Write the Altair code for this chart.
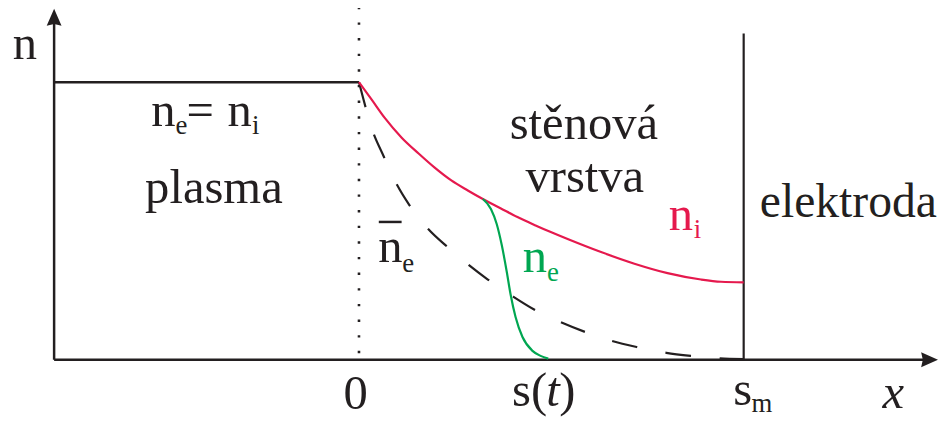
import altair as alt
import pandas as pd

# x in units of s_m (0 = sheath edge, 1 = electrode); n relative to plasma density
ni_x = [0.000, 0.0335, 0.067, 0.111, 0.155, 0.196, 0.240, 0.284, 0.322, 0.369,
        0.412, 0.459, 0.497, 0.544, 0.631, 0.716, 0.802, 0.889, 0.941, 1.000]
ni_n = [1.000, 0.936, 0.871, 0.800, 0.743, 0.693, 0.646, 0.609, 0.579, 0.545,
        0.514, 0.484, 0.461, 0.434, 0.387, 0.346, 0.312, 0.289, 0.281, 0.279]

nebar_x = [0.000, 0.0155, 0.0335, 0.0644, 0.0928, 0.131, 0.180, 0.232, 0.284, 0.335,
           0.399, 0.454, 0.523, 0.588, 0.657, 0.722, 0.799, 0.863, 0.936, 1.000]
nebar_n = [1.000, 0.918, 0.832, 0.732, 0.646, 0.557, 0.471, 0.404, 0.343, 0.289,
           0.229, 0.182, 0.136, 0.100, 0.068, 0.046, 0.025, 0.014, 0.005, 0.002]

ne_x = [0.322, 0.343, 0.358, 0.371, 0.384, 0.394, 0.407, 0.425, 0.451, 0.472, 0.492]
ne_n = [0.579, 0.543, 0.489, 0.414, 0.318, 0.236, 0.154, 0.082, 0.032, 0.014, 0.004]

plasma_x = [-0.7925, 0.0]
plasma_n = [1.0, 1.0]

BLACK = "#231F20"
RED = "#E5194D"
GREEN = "#00A651"
FONT = "Liberation Serif, Times New Roman, Times, serif"
BIG = 49
SUB = 27

xs = alt.Scale(domain=[-0.91237, 1.50773], nice=False, zero=False)
ys = alt.Scale(domain=[-0.22143, 1.26071], nice=False, zero=False)


def X(f):
    return alt.X(f, type="quantitative", scale=xs, axis=None)


def Y(f):
    return alt.Y(f, type="quantitative", scale=ys, axis=None)


def curve(xv, nv, color, dash=None):
    df = pd.DataFrame({"x": xv, "n": nv})
    kw = dict(color=color, strokeWidth=2.2, interpolate="monotone", strokeCap="butt")
    if dash:
        kw["strokeDash"] = dash
    return alt.Chart(df).mark_line(**kw).encode(x=X("x"), y=Y("n"), order="x:Q")


# straight segments: axes, electrode, overbar
segs = pd.DataFrame({
    "x":  [-0.7925, -0.7925, 1.0, 0.0515],
    "x2": [-0.7925, 1.47, 1.0, 0.1108],
    "y":  [0.0, 0.0, 0.0, 0.4964],
    "y2": [1.22, 0.0, 1.175, 0.4964],
    "w":  [2.5, 2.5, 2.2, 2.5],
})
rules = alt.Chart(segs).mark_rule(color=BLACK, strokeCap="butt").encode(
    x=X("x"), x2="x2", y=Y("y"), y2="y2",
    strokeWidth=alt.StrokeWidth("w:Q", scale=None),
)

dotted = alt.Chart(pd.DataFrame({"x": [0.0], "y": [1.2714], "y2": [0.018]})).mark_rule(
    color=BLACK, strokeWidth=2.6, strokeDash=[2.4, 13.37], strokeCap="butt"
).encode(x=X("x"), y=Y("y"), y2="y2")

plasma = alt.Chart(pd.DataFrame({"x": plasma_x, "n": plasma_n})).mark_line(
    color=BLACK, strokeWidth=2.5).encode(x=X("x"), y=Y("n"))

arrows = pd.DataFrame({
    "x": [-0.7925, 1.4832],
    "y": [1.2339, 0.0],
    "shape": ["M0,-1L0.88,1L0,0.8L-0.88,1Z", "M1,0L-1,0.88L-0.8,0L-1,-0.88Z"],
})
heads = alt.Chart(arrows).mark_point(filled=True, size=289, color=BLACK, opacity=1,
                                     strokeWidth=0).encode(
    x=X("x"), y=Y("y"), shape=alt.Shape("shape:N", scale=None))

labels = pd.DataFrame([
    # text, x, y, size, color
    ("n", -0.9000, 1.0821, BIG, BLACK),
    ("n", -0.5400, 0.8429, BIG, BLACK),
    ("e", -0.4768, 0.8143, SUB, BLACK),
    ("=", -0.4485, 0.8429, BIG, BLACK),
    ("n", -0.3415, 0.8429, BIG, BLACK),
    ("i", -0.2780, 0.8143, SUB, BLACK),
    ("plasma", -0.5560, 0.5643, BIG, BLACK),
    ("stěnová", 0.3917, 0.7964, BIG, BLACK),
    ("vrstva", 0.4327, 0.6036, BIG, BLACK),
    ("n", 0.8050, 0.4679, BIG, RED),
    ("i", 0.8700, 0.4393, SUB, RED),
    ("n", 0.4260, 0.3179, BIG, GREEN),
    ("e", 0.4890, 0.2821, SUB, GREEN),
    ("n", 0.0500, 0.3536, BIG, BLACK),
    ("e", 0.1125, 0.3179, SUB, BLACK),
    ("elektroda", 1.0420, 0.5143, 48, BLACK),
    ("0", -0.0400, -0.1786, BIG, BLACK),
    ("s(", 0.3980, -0.1679, BIG, BLACK),
    (")", 0.5206, -0.1679, BIG, BLACK),
    ("s", 0.9730, -0.1643, BIG, BLACK),
    ("m", 1.0206, -0.1893, SUB, BLACK),
], columns=["text", "x", "y", "size", "color"])

italic = pd.DataFrame([
    ("t", 0.4871, -0.1679, BIG, BLACK),
    ("x", 1.3610, -0.1750, BIG, BLACK),
], columns=["text", "x", "y", "size", "color"])


def texts(df, style):
    return alt.Chart(df).mark_text(align="left", baseline="alphabetic", font=FONT,
                                   fontStyle=style).encode(
        x=X("x"), y=Y("y"), text="text:N",
        size=alt.Size("size:Q", scale=None),
        color=alt.Color("color:N", scale=None),
    )


chart = alt.layer(
    dotted,
    rules,
    plasma,
    heads,
    curve(nebar_x, nebar_n, BLACK, dash=[26, 29]),
    curve(ni_x, ni_n, RED),
    curve(ne_x, ne_n, GREEN),
    texts(labels, "normal"),
    texts(italic, "italic"),
).properties(
    width=939, height=415, padding=0,
    autosize=alt.AutoSizeParams(type="none"),
    background="white",
).configure_view(strokeWidth=0)

chart.save("out.html", embed_options={"renderer": "svg", "actions": False})
